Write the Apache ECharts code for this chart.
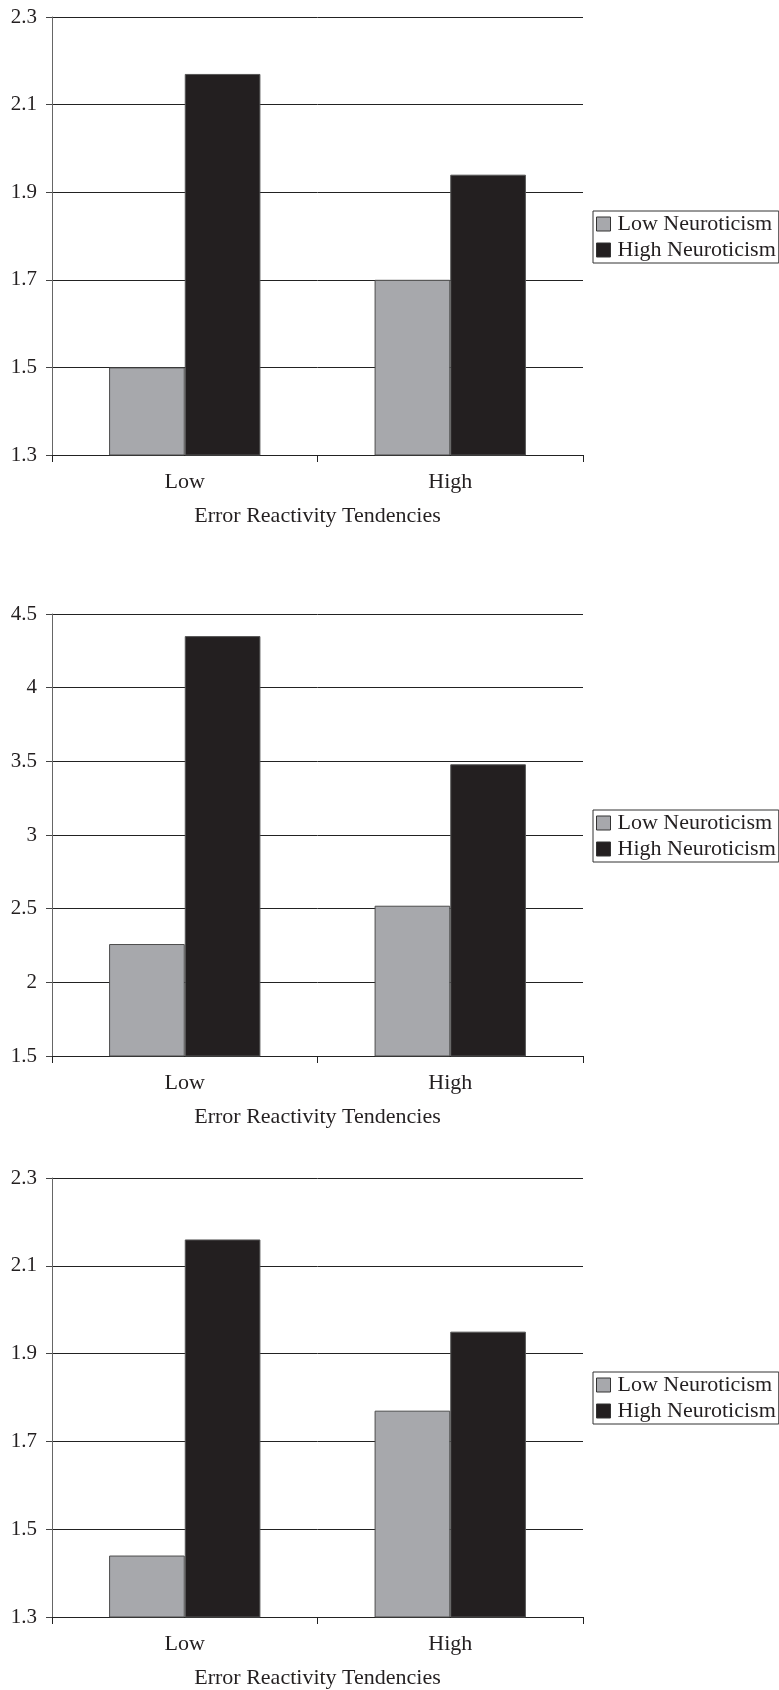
<!DOCTYPE html>
<html>
<head>
<meta charset="utf-8">
<script src="https://cdn.jsdelivr.net/npm/echarts@6/dist/echarts.min.js"></script>
<style>
html,body{margin:0;padding:0;background:#fff;}
#chart{width:779px;height:1690px;}
</style>
</head>
<body>
<div id="chart"></div>
<script>
// ---- data ----
const categories = ['Low', 'High'];
const seriesNames = ['Low Neuroticism', 'High Neuroticism'];
const xAxisTitle = 'Error Reactivity Tendencies';

const panel1Low = [1.50, 1.70];
const panel1High = [2.17, 1.94];
const panel1Ticks = [1.3, 1.5, 1.7, 1.9, 2.1, 2.3];

const panel2Low = [2.26, 2.52];
const panel2High = [4.35, 3.48];
const panel2Ticks = [1.5, 2, 2.5, 3, 3.5, 4, 4.5];

const panel3Low = [1.44, 1.77];
const panel3High = [2.16, 1.95];
const panel3Ticks = [1.3, 1.5, 1.7, 1.9, 2.1, 2.3];

// ---- styling / layout ----
const FONT = 'Liberation Serif';
const TXT = '#231f20';
const GRAY = '#a7a8ac';
const BLACK = '#231f20';

const panels = [
  {low: panel1Low, high: panel1High, ticks: panel1Ticks, top: 17, height: 438, legendTop: 211},
  {low: panel2Low, high: panel2High, ticks: panel2Ticks, top: 614, height: 442, legendTop: 810},
  {low: panel3Low, high: panel3High, ticks: panel3Ticks, top: 1178, height: 439, legendTop: 1372}
];

const grid = [], xAxis = [], yAxis = [], series = [], legend = [];
panels.forEach((p, i) => {
  grid.push({left: 52, width: 531, top: p.top, height: p.height});
  xAxis.push({
    type: 'category', gridIndex: i, data: categories,
    name: xAxisTitle, nameLocation: 'middle', nameGap: 50,
    nameTextStyle: {fontFamily: FONT, fontSize: 22, color: TXT},
    axisLine: {show: true, lineStyle: {color: '#222', width: 1}},
    axisTick: {show: true, alignWithLabel: false, length: 7, lineStyle: {color: '#222'}},
    axisLabel: {fontFamily: FONT, fontSize: 22, color: TXT, margin: 16},
    splitLine: {show: false}
  });
  const mn = p.ticks[0], mx = p.ticks[p.ticks.length - 1];
  yAxis.push({
    type: 'value', gridIndex: i, min: mn, max: mx,
    axisLine: {show: true, lineStyle: {color: '#666', width: 1}},
    axisTick: {show: true, length: 6, lineStyle: {color: '#444'}, customValues: p.ticks},
    axisLabel: {fontFamily: FONT, fontSize: 21, color: TXT, margin: 15, customValues: p.ticks},
    splitLine: {show: true, lineStyle: {color: '#222', width: 1}}
  });
  series.push({
    type: 'bar', name: seriesNames[0], xAxisIndex: i, yAxisIndex: i, data: p.low,
    barGap: '0%', barCategoryGap: '43%',
    itemStyle: {color: GRAY, borderColor: '#4d4d4d', borderWidth: 1}
  });
  series.push({
    type: 'bar', name: seriesNames[1], xAxisIndex: i, yAxisIndex: i, data: p.high,
    barGap: '0%', barCategoryGap: '43%',
    itemStyle: {color: BLACK, borderColor: '#555', borderWidth: 1}
  });
  legend.push({
    data: seriesNames, orient: 'vertical', left: 593, top: p.legendTop,
    itemWidth: 14, itemHeight: 14, itemGap: 4,
    padding: [2, 3, 2, 3],
    borderColor: '#333', borderWidth: 1,
    icon: 'rect',
    itemStyle: {borderColor: '#333', borderWidth: 1},
    textStyle: {fontFamily: FONT, fontSize: 22, color: TXT, padding: [0, 0, 0, 2], lineHeight: 21},
    selectedMode: false
  });
});

const chart = echarts.init(document.getElementById('chart'), null, {renderer: 'canvas'});
chart.setOption({
  animation: false,
  backgroundColor: '#fff',
  grid, xAxis, yAxis, series, legend
});
</script>
</body>
</html>
